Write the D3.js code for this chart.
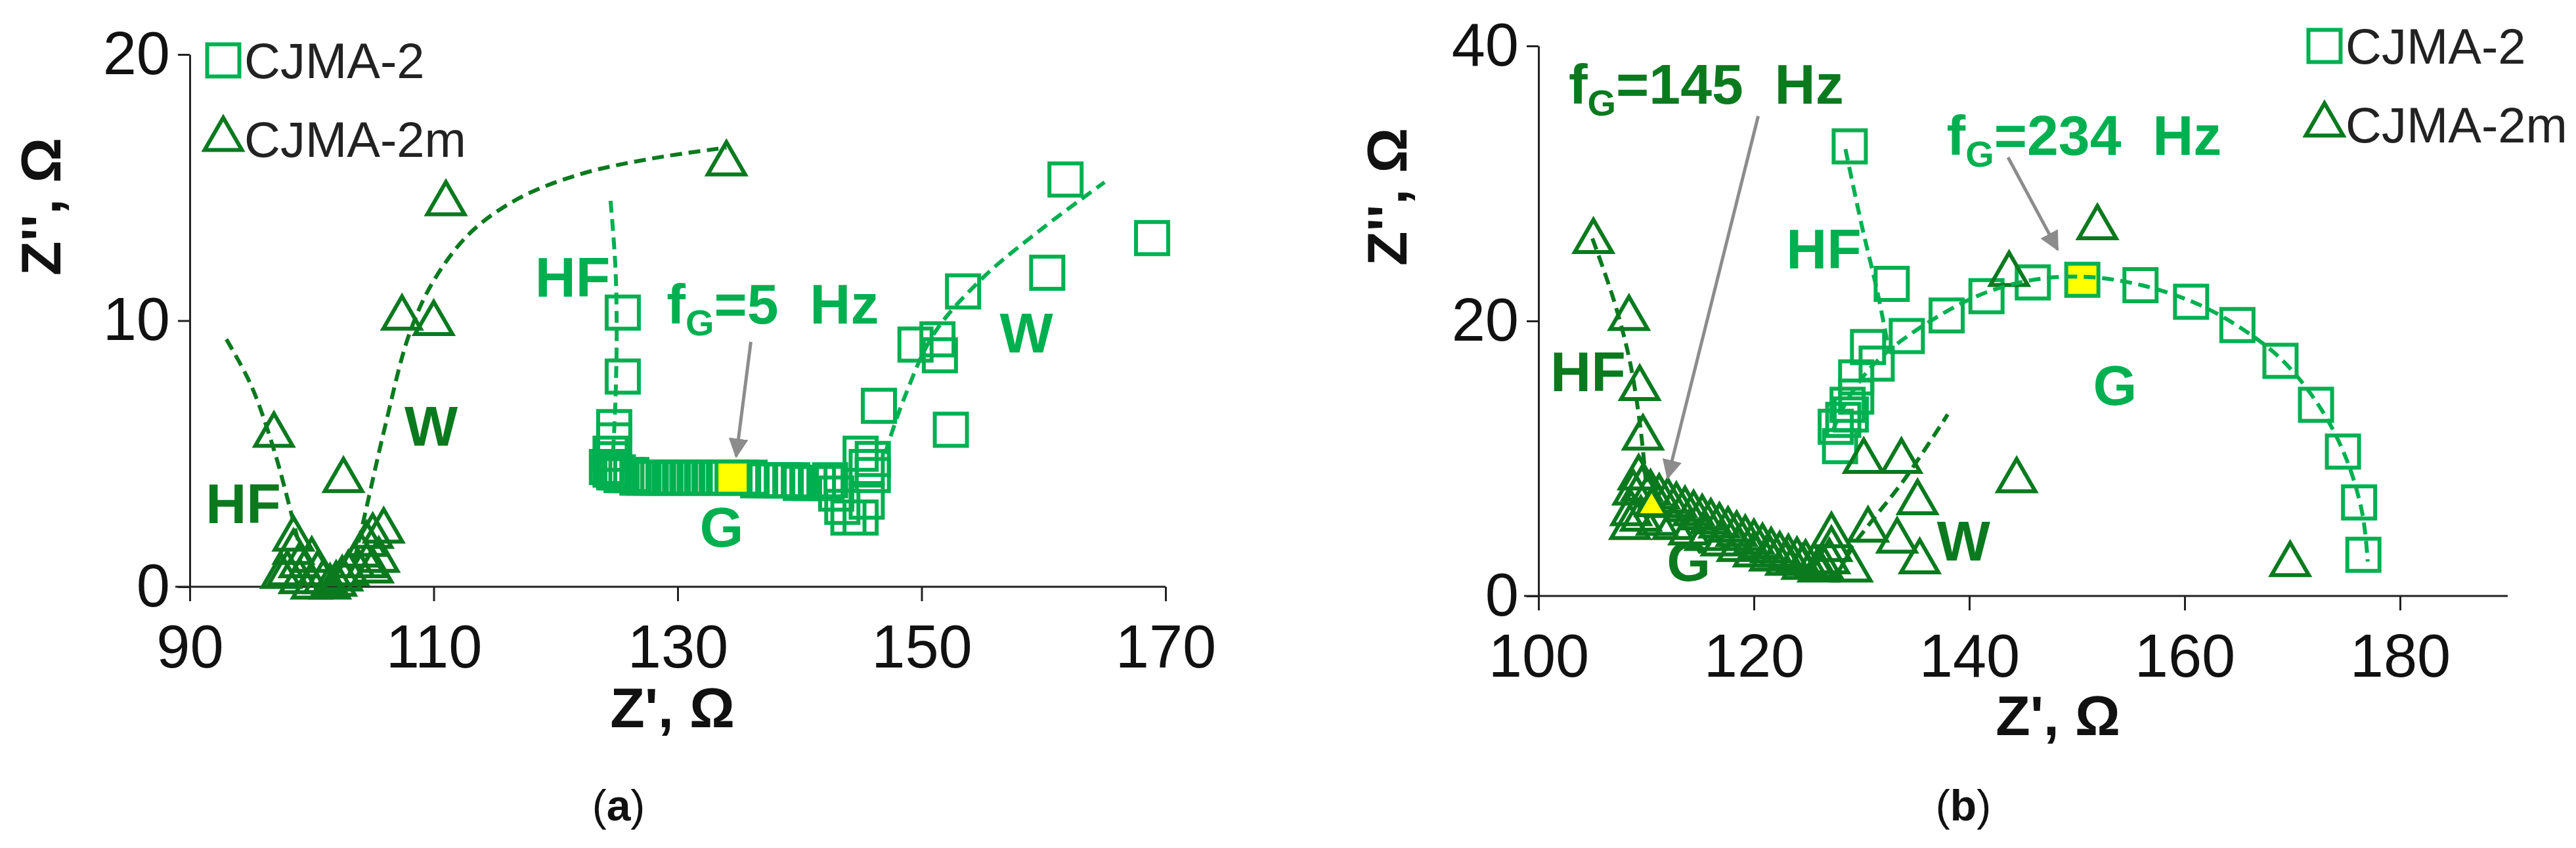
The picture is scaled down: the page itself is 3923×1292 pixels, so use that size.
<!DOCTYPE html>
<html><head><meta charset="utf-8">
<script src="https://cdn.jsdelivr.net/npm/d3@7"></script>
<style>body{margin:0;background:#fff}text{font-family:"Liberation Sans",Arial,sans-serif}</style>
</head><body><svg id="c" width="3923" height="1292"></svg>
<script>
var LIGHT = '#00b050', DARK = '#0b7a1f';

// panel (a) data  [Z', Z'']
var aSquares = [[125.5,10.3],[125.5,7.9],[124.8,6.0],[124.8,5.5],[124.5,5.0],
  [124.2,4.5],[124.5,4.4],[124.8,4.3],[125.1,4.3],[125.4,4.2],[125.8,4.2],[126.2,4.2],[126.7,4.1],[127.2,4.1],
  [127.8,4.1],[128.4,4.1],[129,4.1],[129.6,4.1],[130.2,4.1],[130.8,4.1],[131.4,4.1],[132,4.1],[132.6,4.1],
  [133.2,4.1],[133.8,4.1],[135.2,4.1],[135.9,4.1],[136.6,4.0],[137.3,4.0],[138,4.0],[138.7,4.0],
  [139.4,4.0],[140.1,3.9],[140.8,3.9],[141.5,3.9],[142.2,3.9],[142.5,4.0],[143,3.5],[143.5,3.0],[144,2.6],
  [145,2.6],[145.5,3.2],[145.5,4.5],[146,4.8],[146,4.2],[145,5.0],
  [146.5,6.8],[149.5,9.1],[151.3,9.3],[151.5,8.7],[153.4,11.1],[160.3,11.8],[161.8,15.3],[168.9,13.1],[152.4,5.9]];
var aYellow = [[134.5,4.1]];
var aTriangles = [[96.9,5.7],[102.6,4.0],[107.4,10.1],[110,9.9],[111,14.4],[134,15.9],[105.9,2.1],
  [98.5,1.8],[98.5,1.3],[99,0.8],[97.5,0.4],[99,0.2],[100,1.0],[100.5,0.5],[101,0.2],[101.5,0],[102,0.1],
  [102.5,0.3],[103,0.5],[103.5,0.8],[104,1.2],[104.5,1.6],[105,1.9],[105.5,1.0],[105,0.6],[104.5,0.8],[100,0.0],[98,0.5]];
var aLinesDark = [[[93,9.3],[95,7.6],[96.8,5.3],[98.3,2.8],[99,1.5]],
  [[103.5,1.0],[104.5,3],[106,6],[108,9.5],[110,11.5],[113,13.3],[117,14.6],[122,15.5],[128,16.1],[134,16.5]]];
var aLinesLight = [[[124.5,14.5],[124.9,12],[125,9.5],[124.9,7],[124.7,5]],
  [[147,5],[148.5,7],[151,9.5],[155,11.6],[160,13.5],[165,15.2]]];
var aLabels = [['HF',91.3,2.4,DARK],['W',107.6,5.3,DARK],['HF',118.3,10.9,LIGHT],['fG=5  Hz',129.1,9.9,LIGHT],
  ['G',131.8,1.5,LIGHT],['W',156.4,8.8,LIGHT]];
var aArrows = [[[136,9.2],[134.8,4.9]]];
var aXTicks = [90,110,130,150,170], aYTicks = [0,10,20];

// panel (b) data
var bSquares = [[128.9,32.7],[132.8,22.7],[134.2,18.9],[137.9,20.4],[141.6,21.8],[145.9,22.8],[155.9,22.6],
  [160.6,21.4],[164.9,19.7],[168.9,17.1],[172.2,13.9],[174.7,10.5],[176.2,6.8],[176.6,3.0],
  [130.6,18.1],[131.4,16.9],[129.5,15.9],[128.7,13.9],[127.6,12.3],[128,10.9],[128.3,12.8],[129,13.2],[129.5,14.5]];
var bYellow = [[150.5,23.0]];
var bTriangles = [[105.1,25.8],[108.4,20.2],[109.4,15.1],[109.7,11.5],[109.3,8.6],[108.8,7.5],[108.6,6.0],[108.5,5.0],
  [109.6,7.8],[110.4,7.5],[111.2,7.2],[112,6.9],[112.8,6.6],[113.6,6.3],[114.4,6.0],[115.2,5.7],[116,5.4],
  [116.8,5.1],[117.6,4.8],[118.4,4.5],[119.2,4.2],[120,3.9],[120.8,3.6],[121.6,3.3],[122.4,3.0],[123.2,2.8],
  [124,2.6],[124.8,2.4],[125.6,2.2],[126.4,2.1],[127,2.5],[127.2,3.4],[127.2,4.4],
  [109.5,5.6],[111,5.3],[112.5,5.0],[114,4.6],[115.5,4.2],[117,3.8],[118.5,3.4],[120,3.0],[121.5,2.7],[123,2.4],[124.5,2.1],[126,1.9],
  [129.1,1.9],[130.2,9.8],[130.6,4.8],[133.7,9.8],[135.2,6.8],[133.3,4.0],[135.4,2.5],[144.4,8.4],[143.7,23.4],[151.9,26.8],[169.8,2.3]];
var bTriYellow = [[110.5,6.5]];
var bLinesDark = [[[105,26],[107,21.5],[108.5,17],[109.5,12],[110,8]],
  [[128.5,3],[131,5.5],[134,8.5],[138,13.2]]];
var bLinesLight = [[[128.5,32.5],[130,27],[131.5,22],[132.5,18]],
  [[127.3,12],[128.5,14],[130,15.8],[132,17.5],[136,19.8],[141,21.9],[146,23],[151,23.2],[156,22.6],[161,21.3],
   [165,19.6],[169,17.2],[172.5,13.8],[175,10],[176.5,6],[177,2.5]]];
var bLabels = [['fG=145  Hz',102.8,35.8,DARK],['HF',101.1,14.9,DARK],['G',111.9,1.1,DARK],['W',137,2.6,DARK],
  ['HF',123,23.8,LIGHT],['fG=234  Hz',137.9,32.1,LIGHT],['G',151.5,13.9,LIGHT]];
var bArrows = [[[120.4,34.9],[112,8.6]],[[143.6,31.9],[148.2,25.2]]];
var bXTicks = [100,120,140,160,180], bYTicks = [0,20,40];

var SQ = 2400, TR = 1400;
var svg = d3.select('#c');
var defs = svg.append('defs');
defs.append('marker').attr('id','ah').attr('viewBox','0 0 10 10').attr('refX',9).attr('refY',5)
  .attr('markerWidth',6).attr('markerHeight',6).attr('orient','auto')
  .append('path').attr('d','M0,0L10,5L0,10z').attr('fill','#8c8c8c');

function panel(o) {
  var x = d3.scaleLinear().domain(o.xd).range(o.xr);
  var y = d3.scaleLinear().domain(o.yd).range(o.yr);
  var g = svg.append('g');

  var xa = g.append('g').attr('transform','translate(0,' + y(0) + ')')
    .call(d3.axisBottom(x).tickValues(o.xt).tickSize(22).tickSizeOuter(0).tickPadding(36));
  xa.select('.domain').attr('d','M' + (o.xr[0]-22) + ',0H' + o.xr[1]);
  var ya = g.append('g').attr('transform','translate(' + o.xr[0] + ',0)')
    .call(d3.axisLeft(y).tickValues(o.yt).tickSize(18).tickSizeOuter(0).tickPadding(12));
  g.selectAll('.tick text').attr('font-size',92).attr('fill','#111')
    .attr('font-family','"Liberation Sans Narrow","Liberation Sans",Arial');
  g.selectAll('.domain,.tick line').attr('stroke','#222').attr('stroke-width',3);

  var line = d3.line().x(function(d){return x(d[0]);}).y(function(d){return y(d[1]);}).curve(d3.curveCatmullRom);
  function lines(arr, c) {
    g.selectAll(null).data(arr).enter().append('path').attr('d',line)
      .attr('fill','none').attr('stroke',c).attr('stroke-width',6).attr('stroke-dasharray','18,10');
  }
  function marks(arr, type, size, c, fill) {
    g.selectAll(null).data(arr).enter().append('path')
      .attr('d', d3.symbol().type(type).size(size))
      .attr('transform', function(d){return 'translate(' + x(d[0]) + ',' + y(d[1]) + ')';})
      .attr('fill', fill).attr('stroke', c).attr('stroke-width',6);
  }
  marks(o.sq, d3.symbolSquare, SQ, LIGHT, 'none');
  marks(o.sqY, d3.symbolSquare, SQ, LIGHT, '#ffff00');
  marks(o.tr, d3.symbolTriangle, TR, DARK, 'none');
  if (o.trY) marks(o.trY, d3.symbolTriangle, 900, DARK, '#ffff00');
  lines(o.ld, DARK);
  lines(o.ll, LIGHT);

  g.selectAll(null).data(o.arrows).enter().append('line')
    .attr('x1',function(d){return x(d[0][0]);}).attr('y1',function(d){return y(d[0][1]);})
    .attr('x2',function(d){return x(d[1][0]);}).attr('y2',function(d){return y(d[1][1]);})
    .attr('stroke','#8c8c8c').attr('stroke-width',5).attr('marker-end','url(#ah)');

  o.labels.forEach(function(l) {
    var t = g.append('text').attr('x',x(l[1])).attr('y',y(l[2])).attr('fill',l[3])
      .attr('font-size',86).attr('font-weight','bold')
      .attr('font-family','"Liberation Sans Narrow","Liberation Sans",Arial');
    if (l[0].indexOf('fG') === 0) {
      t.append('tspan').text('f');
      t.append('tspan').text('G').attr('font-size',56).attr('dy',18);
      t.append('tspan').text(l[0].slice(2)).attr('dy',-18).attr('xml:space','preserve');
    } else t.text(l[0]);
  });

  // legend
  o.leg.forEach(function(e, i) {
    var ly = o.legY + i * 120;
    g.append('path').attr('d', d3.symbol().type(i ? d3.symbolTriangle : d3.symbolSquare).size(i ? TR : SQ))
      .attr('transform','translate(' + (o.legX) + ',' + ly + ')')
      .attr('fill','none').attr('stroke', i ? DARK : LIGHT).attr('stroke-width',6);
    g.append('text').attr('x',o.legX + 32).attr('y',ly + 27).attr('font-size',76).attr('fill','#222')
      .attr('font-family','"Liberation Sans Narrow","Liberation Sans",Arial').text(e);
  });

  g.append('text').attr('x',o.xtX).attr('y',o.xtY).attr('text-anchor','middle')
    .attr('font-size',86).attr('font-weight','bold').attr('fill','#111').text("Z', Ω");
  g.append('text').attr('transform','translate(' + o.ytX + ',' + o.ytY + ') rotate(-90)').attr('text-anchor','middle')
    .attr('font-size',86).attr('font-weight','bold').attr('fill','#111').text("Z'', Ω");
  g.append('text').attr('x',o.capX).attr('y',1250).attr('text-anchor','middle')
    .attr('font-family','"Liberation Serif","Times New Roman",serif').attr('font-size',66).attr('fill','#111')
    .html('(<tspan font-weight="bold">' + o.cap + '</tspan>)');
}

panel({xd:[90,170], xr:[289,1775], yd:[0,20], yr:[894,83], xt:aXTicks, yt:aYTicks,
  sq:aSquares, sqY:aYellow, tr:aTriangles, ld:aLinesDark, ll:aLinesLight, labels:aLabels, arrows:aArrows,
  leg:['CJMA-2','CJMA-2m'], legX:340, legY:92, xtX:1024, xtY:1108, ytX:92, ytY:315, capX:942, cap:'a'});
panel({xd:[100,190], xr:[2343,3819], yd:[0,40], yr:[908,70], xt:bXTicks, yt:bYTicks,
  sq:bSquares, sqY:bYellow, tr:bTriangles, trY:bTriYellow, ld:bLinesDark, ll:bLinesLight, labels:bLabels, arrows:bArrows,
  leg:['CJMA-2','CJMA-2m'], legX:3540, legY:70, xtX:3134, xtY:1120, ytX:2142, ytY:300, capX:2990, cap:'b'});
</script></body></html>
